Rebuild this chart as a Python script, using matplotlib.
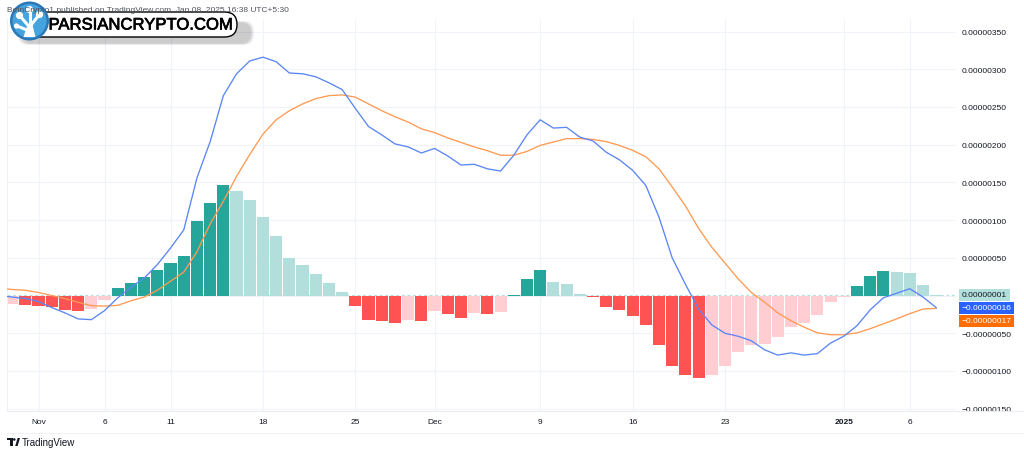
import numpy as np
import pandas as pd
import matplotlib
matplotlib.use('Agg')
import matplotlib.pyplot as plt
import matplotlib.dates as mdates
import matplotlib.patheffects as pe
from matplotlib.patches import Rectangle, FancyBboxPatch, Circle, Polygon

plt.rcParams['font.family'] = ['Liberation Sans', 'DejaVu Sans']

# ---------------- data (values in units of 1e-8) ----------------
dates = pd.date_range('2024-10-29', '2025-01-08', freq='D')
SCALE = 1e-8

macd = [0, -2, -4,
        -8, -16, -23, -31, -32, -20, -3, 11, 23, 41,
        63, 87, 156, 204, 265, 294, 311, 316, 310, 295,
        294, 290, 282, 273, 248, 224, 213, 201, 197, 189,
        195, 185, 173, 174, 168, 165, 186, 213, 233, 222,
        223, 210, 205, 190, 180, 166, 146, 104, 50, 15,
        -18, -39, -50, -54, -60, -72, -79, -76, -79, -77, -63,
        -54, -40, -19, -3, 3, 9, -2, -16]

signal = [10, 8, 7,
          4, 0, -4, -9, -13.5, -14, -13, -7, -2, 7,
          19, 31, 58, 95, 125, 158, 187, 214, 233, 245,
          254, 261, 265, 266, 263, 254, 245, 237, 230, 221,
          216, 209, 203, 197, 192, 186, 186, 191, 199, 203.5,
          208, 208, 207, 204, 199, 192.5, 184, 168, 144, 119,
          89, 64, 43, 22, 4, -9, -23, -33.5, -42, -49.5, -52,
          -52, -49.5, -44, -37.5, -31, -24, -18, -17]

hist = [-12, -11, -13,
        -13.5, -15, -19, -21, -18.5, -6, 10, 17, 24, 34,
        43, 53, 99, 122, 146, 139, 126, 104, 79, 50,
        40, 29, 17, 4.4, -14, -32, -34, -36, -33, -33.5,
        -20, -25, -30, -23, -24, -22, 1, 22, 34, 18,
        15.5, 2, -2, -15.5, -19.5, -26.5, -39, -65, -94, -106,
        -110, -105, -93, -75.5, -66, -64, -55, -41.5, -36, -26, -9,
        -1.3, 12, 26, 32, 31, 30, 14, 1]

ytick_vals = [350, 300, 250, 200, 150, 100, 50, 0, -50, -100, -150]
xtick_dates = ['2024-11-01', '2024-11-06', '2024-11-11', '2024-11-18', '2024-11-25',
               '2024-12-01', '2024-12-09', '2024-12-16', '2024-12-23', '2025-01-01', '2025-01-06']
xtick_labels = ['Nov', '6', '11', '18', '25', 'Dec', '9', '16', '23', '2025', '6']

# ---------------- colours ----------------
C_GROW_ABOVE = '#26A69A'
C_FALL_ABOVE = '#B2DFDB'
C_GROW_BELOW = '#FFCDD2'
C_FALL_BELOW = '#FF5252'
C_MACD = '#5b86f5'
C_SIGNAL = '#ff9a52'
TXT = '#131722'

macd_a = np.array(macd) * SCALE
sig_a = np.array(signal) * SCALE
hist_a = np.array(hist) * SCALE

colors = []
for i, h in enumerate(hist):
    prev = hist[i - 1] if i > 0 else h + 1
    if h >= 0:
        colors.append(C_GROW_ABOVE if h > prev else C_FALL_ABOVE)
    else:
        colors.append(C_GROW_BELOW if h > prev else C_FALL_BELOW)

# ---------------- figure ----------------
W, H = 1024, 456
fig = plt.figure(figsize=(W / 100, H / 100), dpi=100)
fig.patch.set_facecolor('white')
ax = fig.add_axes([7 / W, 1 - 412 / H, (956 - 7) / W, (412 - 20) / H])

xd = mdates.date2num(dates.to_pydatetime())
ax.bar(xd, hist_a, width=0.92, color=colors, linewidth=0, zorder=2)
ax.plot(xd, macd_a, color=C_MACD, lw=0.95, zorder=4)
ax.plot(xd, sig_a, color=C_SIGNAL, lw=0.95, zorder=3)
ax.axhline(hist_a[-1], color='#B2DFDB', lw=0.8, ls=(0, (2.5, 2.5)), zorder=1)

nov1 = mdates.date2num(pd.Timestamp('2024-11-01').to_pydatetime())
ax.set_xlim(nov1 - 2.39, nov1 + 69.5)
ax.set_ylim(-153.1 * SCALE, 366.6 * SCALE)

# grid & spines
ax.set_axisbelow(True)
ax.grid(True, color='#f0f3fa', lw=0.8, zorder=0)
for s in ax.spines.values():
    s.set_visible(False)
ax.spines['left'].set_visible(True)
ax.spines['left'].set_color('#eef0f4')
ax.spines['left'].set_linewidth(0.8)

# y axis on the right
ax.yaxis.tick_right()
ax.set_yticks([v * SCALE for v in ytick_vals])
ylabels = []
for v in ytick_vals:
    if v == 0:
        ylabels.append('')
    else:
        ylabels.append(f"{v * SCALE:.8f}".replace('-', '\u2212'))
ax.set_yticklabels(ylabels)
ax.tick_params(axis='y', length=0, pad=4.3, labelsize=6, labelcolor=TXT)

# x axis
xt = [mdates.date2num(pd.Timestamp(d).to_pydatetime()) for d in xtick_dates]
ax.set_xticks(xt)
ax.set_xticklabels(xtick_labels)
ax.tick_params(axis='x', length=0, pad=5, labelsize=6, labelcolor=TXT)
for lbl in ax.get_xticklabels():
    if lbl.get_text() == '2025':
        lbl.set_fontweight('bold')

# value tags on the price scale
tags = [(hist_a[-1], C_FALL_ABOVE, TXT, 0),
        (macd_a[-1], '#2962FF', 'white', 0),
        (sig_a[-1], '#FF6D00', 'white', -8.9)]
for val, fc, tc, off in tags:
    ax.annotate(f"{val:.8f}".replace('-', '\u2212'), xy=(1, val),
                xycoords=ax.get_yaxis_transform(), xytext=(4.3, off),
                textcoords='offset points', ha='left', va='center', fontsize=6,
                color=tc, annotation_clip=False, zorder=6,
                bbox=dict(boxstyle='square,pad=0.3', fc=fc, ec='none'))

# ---------------- overlay (decorations in pixel coords) ----------------
ov = fig.add_axes([0, 0, 1, 1], zorder=5)
ov.set_xlim(0, W)
ov.set_ylim(H, 0)
ov.axis('off')
ov.patch.set_alpha(0)

# time-axis strip cover (hides clipped price label under it)
ov.add_patch(Rectangle((956, 412.5), W - 956, 22, fc='white', ec='none'))
ov.plot([7, W], [412.5, 412.5], color='#e6e8ee', lw=0.6)
ov.plot([7, W], [434.5, 434.5], color='#eceef2', lw=0.6)

# attribution
ov.text(7, 10, 'BeInCrypto1 published on TradingView.com, Jan 08, 2025 16:38 UTC+5:30',
        fontsize=6, color='#50535e', ha='left', va='center')

# logo shadow
for i, a in enumerate([0.05, 0.05, 0.05, 0.06]):
    g = 4 - i
    ov.add_patch(FancyBboxPatch((22 - g, 24 - g / 2), 228 + 2 * g, 20 + g,
                                boxstyle='round,pad=0,rounding_size=10',
                                fc='black', ec='none', alpha=a))
# pill
ov.add_patch(FancyBboxPatch((14, 13), 223, 25, boxstyle='round,pad=0,rounding_size=12.5',
                            fc='white', ec='black', lw=1.0))
ov.text(48.5, 26, 'PARSIANCRYPTO.COM', fontsize=12, color='black', ha='left', va='center',
        path_effects=[pe.withStroke(linewidth=0.5, foreground='black')])

# round icon
ov.add_patch(Circle((29.5, 22), 19.5, fc='#2b78b8', ec='none'))
ov.add_patch(Circle((29.5, 22), 17, fc='#45a3de', ec='none'))
ov.add_patch(Polygon([(23.5, 38), (35.5, 38), (32.5, 26), (27.5, 26)], closed=True,
                     fc='white', ec='none'))
for (x1, y1, x2, y2) in [(29.5, 28, 20, 17), (29.5, 28, 29.5, 11), (29.5, 28, 39, 16),
                         (27, 31, 17, 27)]:
    ov.plot([x1, x2], [y1, y2], color='white', lw=2.2, solid_capstyle='round')
for (cx, cy, r) in [(19.5, 16.5, 3.6), (29.5, 10.5, 3.6), (39.5, 15.5, 3.6), (16.5, 27, 2.6)]:
    ov.add_patch(Circle((cx, cy), r, fc='white', ec='none'))

# TradingView footer
ov.add_patch(Rectangle((7, 439), 5.5, 2.3, fc=TXT, ec='none'))
ov.add_patch(Rectangle((10.2, 439), 2.3, 8, fc=TXT, ec='none'))
ov.add_patch(Circle((14.3, 440.5), 1.3, fc=TXT, ec='none'))
ov.add_patch(Polygon([(15.2, 447), (17.6, 447), (20, 439), (17.6, 439)], closed=True,
                     fc=TXT, ec='none'))
ov.text(21.5, 443, 'TradingView', fontsize=7, color=TXT, ha='left', va='center')

fig.savefig('out.png', dpi=100, facecolor='white')
